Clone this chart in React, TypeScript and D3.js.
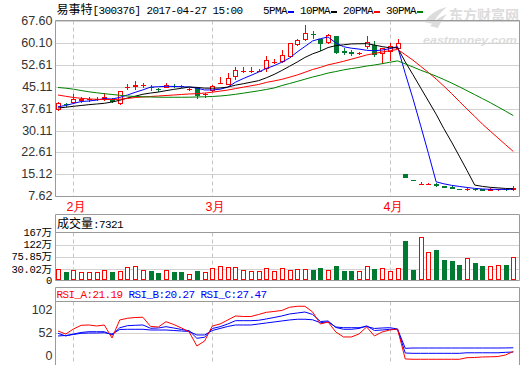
import React from "react";
import * as d3 from "d3";

const dates = [
  "01-25", "01-26",
  "02-03", "02-06", "02-07", "02-08", "02-09", "02-10", "02-13", "02-14", "02-15", "02-16", "02-17",
  "02-20", "02-21", "02-22", "02-23", "02-24", "02-27", "02-28",
  "03-01", "03-02", "03-03", "03-06", "03-07", "03-08", "03-09", "03-10", "03-13", "03-14", "03-15",
  "03-16", "03-17", "03-20", "03-21", "03-22", "03-23", "03-24", "03-27", "03-28", "03-29", "03-30", "03-31",
  "04-05", "04-06", "04-07", "04-10", "04-11", "04-12", "04-13", "04-14", "04-17", "04-18", "04-19",
  "04-20", "04-21", "04-24", "04-25", "04-26", "04-27",
];

const openP = [
  37.6, 39.3, 39.9, 40.7, 40.9, 40.9, 41.4, 41.0, 39.45, 45.0,
  45.5, 45.7, 45.0, 44.4, 45.1, 45.5, 45.5, 44.3, 44.6, 42.5,
  43.9, 46.4, 46.05, 48.8, 50.5, 50.5, 50.5, 51.4, 53.6, 54.0,
  55.6, 59.7, 61.35, 63.3, 61.35, 60.4, 62.35, 57.2, 56.9, 56.5,
  59.15, 59.55, 56.55, 57.45, 58.25, 15.25, 13.3, 11.85, 11.85, 11.7,
  11.0, 10.8, 10.15, 10.0, 10.1, 10.0, 9.9, 9.95, 10.05, 10.0,
];
const highP = [
  39.9, 39.7, 42.6, 41.5, 41.6, 41.5, 43.1, 41.2, 43.8, 45.95,
  47.2, 46.3, 45.6, 44.8, 46.3, 45.9, 45.8, 44.8, 44.7, 43.0,
  45.6, 48.35, 49.9, 51.95, 51.75, 51.7, 51.1, 55.6, 54.5, 57.7,
  60.2, 61.35, 66.2, 64.3, 61.5, 63.0, 62.6, 58.25, 57.6, 57.0,
  62.5, 60.85, 58.5, 59.95, 61.35, 15.4, 13.35, 12.5, 12.2, 12.0,
  11.15, 11.1, 10.2, 10.4, 10.2, 10.1, 10.4, 10.1, 10.1, 11.0,
];
const lowP = [
  37.3, 38.6, 39.55, 39.9, 40.3, 40.4, 40.6, 39.9, 39.3, 44.25,
  44.25, 44.9, 44.0, 43.7, 44.9, 44.9, 45.0, 43.9, 41.2, 41.6,
  43.7, 46.3, 45.9, 47.65, 50.2, 50.0, 50.4, 50.6, 53.1, 53.7,
  55.3, 59.4, 61.1, 61.7, 57.7, 60.2, 56.55, 56.2, 56.0, 56.3,
  58.25, 55.6, 53.1, 54.25, 57.7, 14.2, 13.15, 11.8, 11.8, 11.2,
  10.8, 10.3, 9.95, 9.7, 9.9, 9.8, 9.85, 9.9, 9.85, 9.9,
];
const closeP = [
  39.4, 39.1, 40.8, 40.8, 41.0, 41.0, 41.6, 40.1, 43.55, 45.1,
  45.6, 45.8, 44.9, 44.2, 45.8, 45.35, 45.3, 44.45, 42.3, 42.6,
  45.4, 46.5, 48.0, 50.8, 50.6, 50.6, 50.6, 54.25, 53.7, 56.1,
  59.95, 61.1, 63.6, 63.15, 59.95, 62.8, 57.1, 57.05, 56.8, 56.6,
  60.3, 56.4, 58.25, 59.05, 60.2, 14.35, 13.2, 11.9, 11.9, 11.55,
  10.9, 10.6, 10.05, 10.1, 10.0, 9.9, 10.0, 10.0, 9.95, 10.5,
];

// 万
const volume = [
  31.2, 22.8, 28.1, 22.8, 22.8, 22.8, 28.1, 22.8, 25.5, 37.5,
  41.2, 28.1, 25.5, 20.1, 28.1, 22.8, 22.8, 16.6, 25.5, 22.8,
  33.7, 41.2, 37.5, 37.5, 28.1, 25.5, 25.5, 33.7, 25.5, 33.7,
  28.1, 31.2, 31.2, 28.1, 34.9, 28.1, 42.3, 25.5, 25.5, 25.5,
  41.2, 31.2, 33.7, 25.5, 33.7, 136.5, 29.0, 149.1, 93.3, 101.9,
  64.6, 60.9, 46.0, 71.0, 54.6, 42.3, 42.3, 47.7, 46.0, 74.7,
];

const ma5 = [
  38.28, 38.69, 39.38, 40.06, 40.22, 40.54, 41.04, 40.9, 41.45, 42.27,
  43.19, 44.03, 44.99, 45.12, 45.26, 45.21, 45.11, 45.02, 44.64, 44.0,
  44.01, 44.25, 44.96, 46.66, 47.9, 49.0, 50.12, 51.37, 52.3, 53.5,
  54.92, 57.02, 58.89, 60.78, 61.55, 62.12, 60.1, 58.8, 58.3, 58.0,
  57.57, 57.43, 57.67, 58.12, 58.84, 49.65, 41.01, 31.74, 22.31, 12.58,
  11.89, 11.37, 11.0, 10.64, 10.33, 10.13, 10.01, 10.0, 9.97, 10.07,
];
const ma10 = [
  37.84, 38.08, 38.42, 38.69, 38.97, 39.2, 39.44, 39.89, 40.47, 41.25,
  41.87, 42.54, 42.95, 43.29, 43.77, 44.2, 44.57, 45.01, 44.88, 44.63,
  44.61, 44.68, 44.99, 45.65, 46.13, 46.66, 47.19, 48.17, 49.31, 50.66,
  52.11, 53.57, 55.13, 56.37, 57.3, 58.52, 59.17, 59.45, 59.76, 59.81,
  59.85, 59.38, 58.84, 58.43, 58.46, 53.61, 49.22, 44.71, 40.22, 35.71,
  30.77, 26.19, 21.37, 16.48, 11.46, 11.01, 10.69, 10.5, 10.31, 10.2,
];
const ma20 = [
  42.29, 41.84, 41.43, 41.16, 40.92, 40.82, 40.75, 40.75, 40.82, 41.09,
  41.43, 41.6, 41.77, 41.94, 42.11, 42.28, 42.46, 42.63, 42.73, 42.94,
  43.24, 43.61, 43.97, 44.47, 44.95, 45.43, 45.88, 46.59, 47.09, 47.64,
  48.36, 49.13, 50.06, 51.01, 51.72, 52.59, 53.18, 53.81, 54.53, 55.23,
  55.98, 56.47, 56.99, 57.4, 57.88, 56.07, 54.2, 52.08, 49.99, 47.76,
  45.31, 42.78, 40.11, 37.45, 34.96, 32.31, 29.96, 27.6, 25.26, 22.96,
];
const ma30 = [
  44.85, 44.61, 44.27, 43.82, 43.38, 43.04, 42.73, 42.46, 42.18, 41.94,
  41.77, 41.67, 41.6, 41.53, 41.5, 41.5, 41.5, 41.53, 41.6, 41.67,
  41.77, 41.94, 42.18, 42.52, 42.9, 43.31, 43.72, 44.17, 44.68, 45.51,
  46.2, 46.93, 47.69, 48.43, 49.07, 49.79, 50.31, 50.87, 51.32, 51.7,
  52.19, 52.54, 52.99, 53.48, 53.96, 52.93, 51.86, 50.77, 49.76, 48.73,
  47.58, 46.38, 45.11, 43.76, 42.4, 41.05, 39.69, 38.22, 36.76, 35.24,
];

const rsiA = [
  55.9, 50.8, 59.3, 65.6, 66.1, 64.4, 66.1, 44.1, 74.6, 77.5,
  78.8, 79.2, 63.6, 62.7, 71.7, 66.9, 61.0, 54.2, 30.5, 39.0,
  64.4, 67.8, 74.6, 81.4, 80.5, 80.5, 83.9, 87.6, 89.0, 90.7,
  96.1, 97.8, 97.8, 88.1, 67.8, 71.2, 54.2, 45.8, 45.8, 50.8,
  62.7, 47.5, 54.2, 57.6, 59.3, 8.5, 8.0, 8.0, 8.0, 8.0,
  8.0, 8.0, 8.0, 10.7, 11.0, 11.9, 12.2, 12.7, 15.3, 21.19,
];
const rsiB = [
  52.0, 47.5, 50.8, 53.4, 54.7, 54.7, 54.7, 49.2, 61.4, 64.9,
  65.6, 66.1, 60.5, 61.0, 63.2, 61.0, 58.5, 56.4, 43.6, 45.3,
  60.2, 63.2, 67.8, 73.4, 73.4, 73.4, 74.1, 76.3, 78.8, 81.4,
  84.7, 86.4, 88.1, 83.9, 72.0, 72.9, 61.9, 58.8, 58.8, 60.2,
  64.6, 56.8, 57.6, 58.8, 58.5, 18.6, 18.1, 18.1, 18.1, 18.1,
  18.1, 18.1, 18.1, 19.0, 19.0, 19.0, 19.0, 19.0, 19.8, 20.27,
];
const rsiC = [
  47.5, 48.3, 50.0, 52.0, 52.5, 52.5, 53.0, 50.8, 58.5, 58.8,
  58.8, 58.8, 57.6, 57.6, 57.6, 56.8, 55.9, 55.1, 49.2, 49.2,
  56.8, 60.2, 63.6, 66.1, 66.1, 66.1, 67.8, 69.5, 71.2, 72.9,
  74.6, 75.8, 75.8, 74.9, 70.0, 71.2, 62.7, 61.5, 61.5, 61.5,
  63.6, 60.2, 61.0, 61.5, 59.3, 26.6, 27.1, 27.1, 27.1, 27.1,
  27.1, 27.1, 27.1, 27.1, 27.1, 27.1, 27.1, 27.1, 27.2, 27.47,
];

const priceTicks = [67.6, 60.1, 52.61, 45.11, 37.61, 30.11, 22.61, 15.12, 7.62];
const volumeTicks = [0, 30.02, 75.85, 122, 167];
const volumeTickLabels = ["0", "30.02", "75.85", "122", "167"];
const rsiTicks = [0, 52, 102];
const maNames = ["5PMA", "10PMA", "20PMA", "30PMA"];
const maColors = ["#0000ff", "#000000", "#ff0000", "#008000"];
const stockTitle = "易事特";
const stockCode = "[300376] 2017-04-27 15:00";
const lastVolumeText = "7321";

const MONO = "'Liberation Mono','DejaVu Sans Mono',monospace";
const CJK = "'Noto Sans CJK SC','Noto Sans',sans-serif";
const SANS = "'Liberation Sans',Arial,sans-serif";
const RED = "#ff0000";
const GREEN = "#007a30";
const BORDER = "#9a9a9a";
const GRID = "#d2d2d2";

export default function App() {
  const n = dates.length;
  const idx = d3.range(n);
  const L = 55.5;
  const R = 519.5;
  const P_TOP = 20.5;
  const P_BOT = 196.5;
  const V_BOX = 214.5;
  const V_TOP = 232.5;
  const V_BOT = 280.5;
  const R_BOX = 287.5;
  const R_TOP = 301.5;
  const R_BOT = 364.5;

  const x = d3.scalePoint<number>().domain(idx).range([58, 513.3]);
  const xc = (i: number) => Math.round(x(i) as number);
  const yP = d3.scaleLinear().domain([7.62, 67.6]).range([196.3, 21]);
  const yV = d3.scaleLinear().domain([0, 30.02, 167]).range([280.5, 269.3, 232.5]);
  const yR = d3.scaleLinear().domain([0, 102]).range([364, 303.8]);

  const monthIdx = idx.filter((i) => i > 0 && dates[i].slice(0, 2) !== dates[i - 1].slice(0, 2));

  const priceLine = d3
    .line<number>()
    .x((_, i) => x(i) as number)
    .y((d) => yP(d));
  const rsiLine = d3
    .line<number>()
    .x((_, i) => x(i) as number)
    .y((d) => yR(d));

  const mas = [ma5, ma10, ma20, ma30];

  let lx = 263;
  const legend = maNames.map((name, k) => {
    const tx = lx;
    const w = name.length * 6;
    const d0 = tx + w + 1;
    lx = d0 + 6 + 6;
    return { name, tx, d0, color: maColors[k] };
  });

  const crisp = (v: number) => Math.round(v) + 0.5;

  return (
    <svg
      width={520}
      height={365}
      style={{ position: "absolute", left: 0, top: 0, background: "#fff" }}
      xmlns="http://www.w3.org/2000/svg"
    >
      <rect x={0} y={0} width={520} height={365} fill="#fff" />

      {/* watermark */}
      <g fill="#dcdcdc">
        <path d="M424,22 C430,14 438,9 447,7 C441,12 436,17 433,24 Z" />
        <path d="M430,26 C435,20 441,16 447,14 C443,19 440,23 438,28 Z" />
        <text x={449} y={20} fontFamily={CJK} fontSize={14} fontWeight="bold">
          东方财富网
        </text>
        <text
          x={423}
          y={44}
          fontFamily={SANS}
          fontSize={11}
          fontWeight="bold"
          fontStyle="italic"
          textLength={94}
          lengthAdjust="spacingAndGlyphs"
        >
          eastmoney.com
        </text>
      </g>

      {/* header */}
      <text x={56.5} y={14} fontFamily={MONO} fontSize={11} fill="#000" style={{ letterSpacing: "-0.6px" }}>
        <tspan fontFamily={CJK} fontSize={12} style={{ letterSpacing: "0px" }}>
          {stockTitle}
        </tspan>
        <tspan>{stockCode}</tspan>
      </text>
      {legend.map((g) => (
        <g key={g.name}>
          <text x={g.tx} y={14} fontFamily={MONO} fontSize={11} fill="#000" style={{ letterSpacing: "-0.6px" }}>
            {g.name}
          </text>
          <line x1={g.d0} x2={g.d0 + 6} y1={12} y2={12} stroke={g.color} strokeWidth={2} />
        </g>
      ))}

      {/* price panel grid */}
      {priceTicks.map((t) => (
        <line key={"pg" + t} x1={L} x2={R} y1={crisp(yP(t))} y2={crisp(yP(t))} stroke={GRID} />
      ))}
      {monthIdx.map((i) => (
        <g key={"dash" + i} stroke="#c4c4c4" strokeDasharray="4,3">
          <line x1={xc(i) + 0.5} x2={xc(i) + 0.5} y1={P_TOP} y2={P_BOT} />
          <line x1={xc(i) + 0.5} x2={xc(i) + 0.5} y1={V_TOP} y2={V_BOT} />
          <line x1={xc(i) + 0.5} x2={xc(i) + 0.5} y1={R_TOP} y2={R_BOT} />
        </g>
      ))}
      <path d={`M${L},${P_TOP}H${R}V${P_BOT}H${L}Z`} fill="none" stroke={BORDER} />
      {priceTicks.map((t) => (
        <text
          key={"pt" + t}
          x={52.5}
          y={yP(t)}
          textAnchor="end"
          dominantBaseline="central"
          fontFamily={SANS}
          fontSize={12.5}
          fill="#333"
        >
          {t.toFixed(2)}
        </text>
      ))}

      {/* candles */}
      {idx.map((i) => {
        const o = openP[i];
        const c = closeP[i];
        const up = c >= o;
        const col = up ? RED : GREEN;
        const cx = xc(i);
        const top = Math.round(yP(Math.max(o, c)));
        const bot = Math.round(yP(Math.min(o, c)));
        const yh = Math.round(yP(highP[i]));
        const yl = Math.round(yP(lowP[i]));
        const wx = cx + 0.5;
        if (bot - top < 1) {
          return (
            <g key={"c" + i} stroke={col}>
              <line x1={wx} x2={wx} y1={yh} y2={yl + 1} />
              <line x1={cx - 2} x2={cx + 3} y1={top + 0.5} y2={top + 0.5} />
            </g>
          );
        }
        if (up) {
          return (
            <g key={"c" + i} stroke={col}>
              {yh < top && <line x1={wx} x2={wx} y1={yh} y2={top} />}
              {yl > bot && <line x1={wx} x2={wx} y1={bot + 1} y2={yl + 1} />}
              <rect x={cx - 1.5} y={top + 0.5} width={4} height={bot - top} fill="#fff" />
            </g>
          );
        }
        return (
          <g key={"c" + i}>
            <line x1={wx} x2={wx} y1={yh} y2={yl + 1} stroke={col} />
            <rect x={cx - 2} y={top} width={5} height={bot - top + 1} fill={col} />
          </g>
        );
      })}

      {/* moving averages */}
      {mas.map((m, k) => (
        <path key={"ma" + k} d={priceLine(m) || ""} fill="none" stroke={maColors[k]} strokeWidth={1} />
      ))}

      {/* month labels */}
      {monthIdx.map((i) => (
        <text
          key={"ml" + i}
          x={xc(i) + 3.5}
          y={207}
          textAnchor="middle"
          dominantBaseline="central"
          fontFamily={SANS}
          fontSize={12.5}
          fill={RED}
        >
          {parseInt(dates[i].slice(0, 2), 10) + "月"}
        </text>
      ))}

      {/* volume panel */}
      {volumeTicks.slice(1, -1).map((t) => (
        <line key={"vg" + t} x1={L} x2={R} y1={crisp(yV(t))} y2={crisp(yV(t))} stroke={GRID} />
      ))}
      <path d={`M${L},${V_BOX}H${R}V${V_BOT}H${L}Z`} fill="none" stroke={BORDER} />
      <line x1={L} x2={R} y1={V_TOP} y2={V_TOP} stroke={BORDER} />
      <text x={57} y={228} fontFamily={MONO} fontSize={11} fill="#000" style={{ letterSpacing: "-0.6px" }}>
        <tspan fontFamily={CJK} fontSize={12} style={{ letterSpacing: "0px" }}>
          成交量
        </tspan>
        <tspan>{":" + lastVolumeText}</tspan>
      </text>
      {volumeTicks.map((t, k) => (
        <text
          key={"vt" + t}
          x={52}
          y={yV(t) + 3.5}
          textAnchor="end"
          fontFamily={MONO}
          fontSize={10.5}
          fill="#000"
          style={{ letterSpacing: "-0.3px" }}
        >
          <tspan>{volumeTickLabels[k]}</tspan>
          {t > 0 && (
            <tspan fontFamily={CJK} fontSize={10.5} style={{ letterSpacing: "0px" }}>
              万
            </tspan>
          )}
        </text>
      ))}
      {idx.map((i) => {
        const up = closeP[i] >= openP[i];
        const cx = xc(i);
        const top = Math.round(yV(volume[i]));
        return up ? (
          <rect key={"v" + i} x={cx - 1.5} y={top + 0.5} width={4} height={279 - top} fill="#fff" stroke={RED} />
        ) : (
          <rect key={"v" + i} x={cx - 2} y={top} width={5} height={280 - top} fill={GREEN} />
        );
      })}

      {/* RSI panel */}
      <line x1={L} x2={R} y1={crisp(yR(52))} y2={crisp(yR(52))} stroke={GRID} />
      <path d={`M${L},${R_BOT + 5}V${R_BOX}H${R}V${R_BOT + 5}`} fill="none" stroke={BORDER} />
      <line x1={L} x2={R} y1={R_TOP} y2={R_TOP} stroke={BORDER} />
      <text x={56.5} y={297.5} fontFamily={MONO} fontSize={11} style={{ letterSpacing: "-0.6px" }}>
        <tspan fill={RED}>{"RSI_A:" + rsiA[n - 1].toFixed(2)}</tspan>
        <tspan fill="#0000ff">{" RSI_B:" + rsiB[n - 1].toFixed(2)}</tspan>
        <tspan fill="#0000ff">{" RSI_C:" + rsiC[n - 1].toFixed(2)}</tspan>
      </text>
      {rsiTicks.map((t) => (
        <text
          key={"rt" + t}
          x={52.5}
          y={Math.min(Math.max(yR(t), R_TOP + 8), 355.5)}
          textAnchor="end"
          dominantBaseline="central"
          fontFamily={SANS}
          fontSize={12.5}
          fill="#333"
        >
          {t}
        </text>
      ))}
      <path d={rsiLine(rsiC) || ""} fill="none" stroke="#0000ff" />
      <path d={rsiLine(rsiB) || ""} fill="none" stroke="#0000ff" />
      <path d={rsiLine(rsiA) || ""} fill="none" stroke={RED} />
    </svg>
  );
}
